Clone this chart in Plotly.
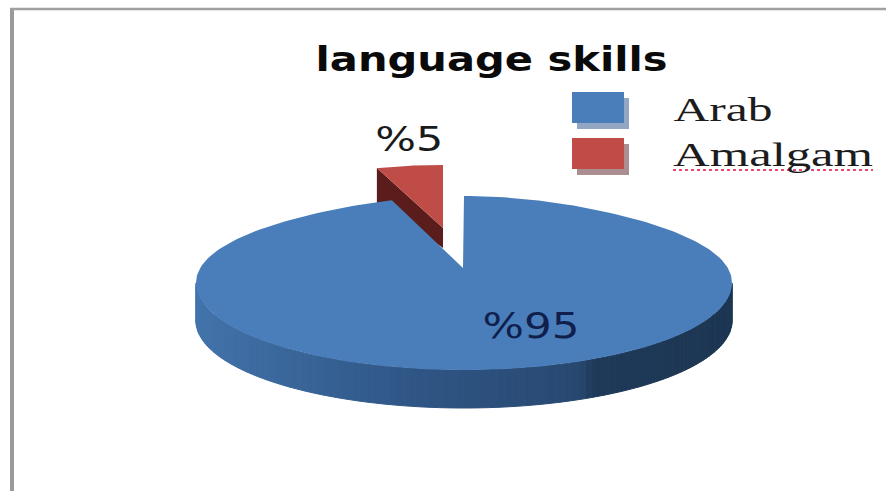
import json
import numpy as np
import plotly.graph_objects as go

# Chart data
title = "language skills"
categories = ["Arab", "Amalgam"]
values = [95, 5]
top_colors = ["#4a7ebb", "#c04c47"]
shadow_colors = ["#93a7c4", "#ab8f90"]

W, H = 886, 491

# Tilted-disc projection of the pie, in page pixels
CX, CY, RX, RY, DEPTH = 464, 283, 268, 87, 38
APEX = (463, 268)
BACK_FORESHORTEN = 0.15
# The pulled-out slice sits up and left, and is drawn a little smaller
SLICE_APEX = (443, 228)
SLICE_RX, SLICE_RY = 214, 63
SLICE_DEPTH_INNER, SLICE_DEPTH_OUTER = 20, 35


def wall_color(x):
    stops_x = [196, 400, 580, 592, 733]
    r = np.interp(x, stops_x, [66, 48, 40, 31, 28])
    g = np.interp(x, stops_x, [115, 87, 72, 57, 54])
    b = np.interp(x, stops_x, [170, 135, 112, 90, 82])
    return f"rgb({r:.0f},{g:.0f},{b:.0f})"


def polygon(xs, ys, color, line=0.0):
    return go.Scatter(
        x=xs, y=ys, mode="lines", fill="toself", fillcolor=color,
        line=dict(color=color, width=line), hoverinfo="skip", showlegend=False,
    )


total = sum(values)
start_big = 0.0
end_big = 2 * np.pi * values[0] / total

fig = go.Figure()

# Pulled-out slice: inner wall, then top face
ax, ay = SLICE_APEX
t_small = np.linspace(end_big, 2 * np.pi, 30)
sx = ax + SLICE_RX * np.sin(t_small)
sy = ay - SLICE_RY * np.cos(t_small)
fig.add_trace(polygon(
    [sx[0], ax, ax, sx[0], sx[0]],
    [sy[0], ay, ay + SLICE_DEPTH_INNER, sy[0] + SLICE_DEPTH_OUTER, sy[0]],
    "#5b1d1b",
))
fig.add_trace(polygon(
    np.r_[ax, sx, ax], np.r_[ay, sy, ay], top_colors[1],
))

# Rim of the large slice, split into shaded bands
edges = np.linspace(np.pi / 2, 3 * np.pi / 2, 121)
for a, b in zip(edges[:-1], edges[1:]):
    t = np.linspace(a, b, 3)
    x = CX + RX * np.sin(t)
    y = CY - RY * np.cos(t)
    fig.add_trace(polygon(
        np.r_[x, x[::-1], x[0]],
        np.r_[y, y[::-1] + DEPTH, y[0]],
        wall_color(x.mean()), line=1.0,
    ))

# Top face of the large slice; the far edge narrows slightly with perspective
t_big = np.linspace(start_big, end_big, 240)
far = np.clip(np.cos(t_big), 0, None) ** 3
fig.add_trace(polygon(
    np.r_[APEX[0], CX + RX * np.sin(t_big) * (1 - BACK_FORESHORTEN * far), APEX[0]],
    np.r_[APEX[1], CY - RY * np.cos(t_big), APEX[1]],
    top_colors[0],
))

shapes = [
    # Outer frame of the plot area
    dict(type="line", x0=12, x1=12, y0=9, y1=H, line=dict(color="#9a9a9a", width=4)),
    dict(type="line", x0=10, x1=W, y0=9, y1=9, line=dict(color="#a0a0a0", width=2.5)),
    # Spell-check squiggle beneath the second legend entry
    dict(type="line", x0=673, x1=873, y0=170, y1=170,
         line=dict(color="#e8486e", width=2, dash="dot")),
]

percent_labels = [f"%{v}" for v in values]

annotations = [
    dict(x=491, y=59, text=title,
         font=dict(family="DejaVu Sans", size=33, color="#0a0a0a", weight="bold")),
    dict(x=531, y=325, text=percent_labels[0],
         font=dict(family="DejaVu Sans", size=36, color="#101f4c")),
    dict(x=409, y=139, text=percent_labels[1],
         font=dict(family="DejaVu Sans", size=33, color="#1a1a1a")),
]

# Hand-built legend: swatches with a drop shadow, serif labels
for name, color, shadow, y0, label_x, label_y in zip(
    categories, top_colors, shadow_colors, [92, 138], [722.5, 773], [110, 155]
):
    shapes.append(dict(type="rect", x0=577, x1=629, y0=y0 + 6, y1=y0 + 37,
                       fillcolor=shadow, line=dict(width=0)))
    shapes.append(dict(type="rect", x0=572, x1=624, y0=y0, y1=y0 + 31,
                       fillcolor=color, line=dict(width=0)))
    annotations.append(dict(
        x=label_x, y=label_y, text=name,
        font=dict(family="Liberation Serif", size=33, color="#1c1c1c"),
    ))

for a in annotations:
    a.update(xref="x", yref="y", showarrow=False, xanchor="center", yanchor="middle")
for s in shapes:
    s.update(xref="x", yref="y", layer="above" if s["type"] == "line" else "below")

fig.update_layout(
    width=W, height=H, margin=dict(l=0, r=0, t=0, b=0),
    paper_bgcolor="white", plot_bgcolor="white",
    xaxis=dict(range=[0, W], visible=False, fixedrange=True),
    yaxis=dict(range=[H, 0], visible=False, fixedrange=True),
    shapes=shapes, annotations=annotations, showlegend=False,
)

# The lettering is set wide: stretch each label to its run length
text_widths = {
    title: 352,
    percent_labels[0]: 97,
    percent_labels[1]: 68,
    categories[0]: 99,
    categories[1]: 200,
}
stretch_text = """
var widths = %s;
document.querySelectorAll('.annotation-text').forEach(function (node) {
  var w = widths[node.textContent];
  if (w) {
    node.setAttribute('textLength', w);
    node.setAttribute('lengthAdjust', 'spacingAndGlyphs');
  }
});
""" % json.dumps(text_widths)

fig.write_html("out.html", config=dict(displayModeBar=False), post_script=stretch_text)
